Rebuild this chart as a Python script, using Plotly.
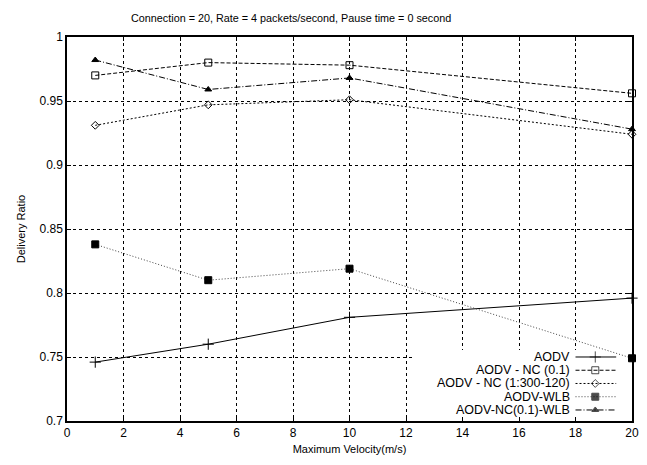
import plotly.graph_objects as go

velocity = [1, 5, 10, 20]
aodv = [0.746, 0.760, 0.781, 0.796]
aodv_nc01 = [0.970, 0.980, 0.978, 0.956]
aodv_nc300 = [0.931, 0.947, 0.951, 0.924]
aodv_wlb = [0.838, 0.810, 0.819, 0.749]
aodv_nc01_wlb = [0.982, 0.959, 0.968, 0.928]

names = ["AODV", "AODV - NC (0.1)", "AODV - NC (1:300-120)", "AODV-WLB", "AODV-NC(0.1)-WLB"]
series = [aodv, aodv_nc01, aodv_nc300, aodv_wlb, aodv_nc01_wlb]
symbols = ["cross-thin-open", "square-open", "diamond-open", "square", "triangle-up"]
msizes = [8, 7, 6, 7, 6]
dashes = ["solid", "4px,2px", "2px,2px", "1px,2px", "6px,2px,1px,2px"]
colors = ["black", "black", "black", "#444444", "black"]

x_ticks = list(range(0, 21, 2))
y_ticks = [0.7, 0.75, 0.8, 0.85, 0.9, 0.95, 1.0]
y_ticktext = ["0.7", "0.75", "0.8", "0.85", "0.9", "0.95", "1"]
x_range = [0, 20]
y_range = [0.7, 1.0]

FONT = "Liberation Sans, Arial, sans-serif"
fig = go.Figure()

for name, ys, sym, ms, dash, col in zip(names, series, symbols, msizes, dashes, colors):
    fig.add_trace(go.Scatter(
        x=velocity, y=ys, mode="lines+markers", name=name, showlegend=False,
        line=dict(color=col, width=1, dash=dash),
        marker=dict(symbol=sym, size=ms, color="black", line=dict(color="black", width=1)),
        cliponaxis=False,
    ))

def fx(f):
    return x_range[0] + f * (x_range[1] - x_range[0])

def fy(f):
    return y_range[0] + f * (y_range[1] - y_range[0])

# custom legend (symbols to the right of right-aligned text), placed in axis-fraction terms
row_top = 0.1667
row_step = 0.0345
for i, (name, sym, ms, dash, col) in enumerate(zip(names, symbols, msizes, dashes, colors)):
    yy = row_top - i * row_step
    fig.add_trace(go.Scatter(
        x=[fx(0.900), fx(0.935), fx(0.972)], y=[fy(yy)] * 3,
        mode="lines+markers", showlegend=False, hoverinfo="skip",
        line=dict(color=col, width=1, dash=dash),
        marker=dict(symbol=sym, size=[0, ms, 0], color="black", line=dict(color="black", width=1)),
    ))
    fig.add_annotation(text=name, xref="paper", yref="paper", x=0.893, y=yy,
                       xanchor="right", yanchor="middle", showarrow=False,
                       font=dict(family=FONT, size=12.5, color="black"))

fig.add_shape(type="rect", xref="x", yref="y", x0=fx(0.612), x1=fx(0.998), y0=fy(0.003), y1=fy(0.185),
              fillcolor="white", line=dict(width=0), layer="between")

fig.update_layout(
    width=647, height=465,
    margin=dict(l=67, r=8, t=37, b=44),
    paper_bgcolor="white", plot_bgcolor="white",
    title=dict(text="Connection = 20, Rate = 4 packets/second, Pause time = 0 second",
               x=0.45, xanchor="center", y=0.961, yanchor="middle",
               font=dict(family=FONT, size=10.8, color="black")),
    font=dict(family=FONT, size=12, color="black"),
    xaxis=dict(range=x_range, tickvals=x_ticks, showgrid=True, gridcolor="black",
               griddash="dot", gridwidth=1, showline=True, linecolor="black", linewidth=1.5,
               mirror="ticks", ticks="inside", ticklen=4, tickcolor="black", zeroline=False,
               title=dict(text="Maximum Velocity(m/s)", font=dict(size=11), standoff=6)),
    yaxis=dict(range=y_range, tickvals=y_ticks, ticktext=y_ticktext, showgrid=True,
               gridcolor="black", griddash="dot", gridwidth=1, showline=True,
               linecolor="black", linewidth=1.5, mirror="ticks", ticks="inside", ticklen=4,
               tickcolor="black", zeroline=False,
               title=dict(text="Delivery Ratio", font=dict(size=11), standoff=12)),
)

fig.write_html("out.html")
